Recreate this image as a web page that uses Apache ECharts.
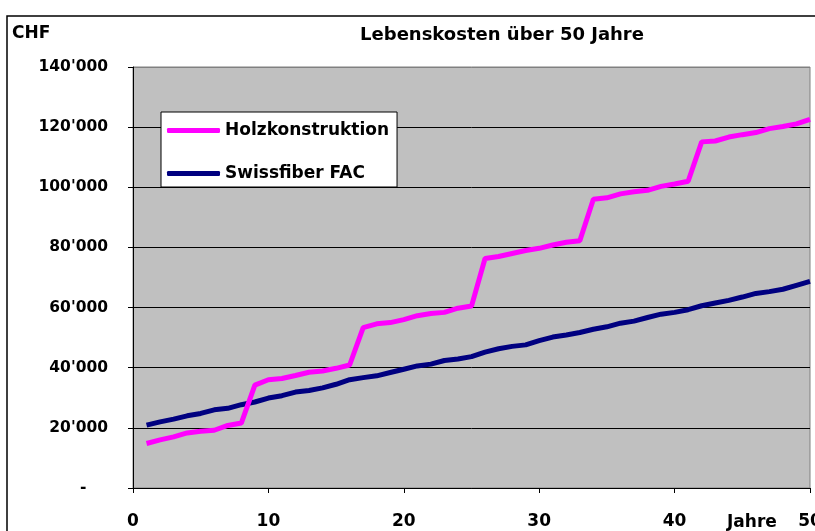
<!DOCTYPE html>
<html>
<head>
<meta charset="utf-8">
<script src="https://cdn.jsdelivr.net/npm/echarts@6/dist/echarts.min.js"></script>
<style>
html,body{margin:0;padding:0;background:#fff;}
#c{width:815px;height:531px;}
</style>
</head>
<body>
<div id="c"></div>
<script>
const years = [1,2,3,4,5,6,7,8,9,10,11,12,13,14,15,16,17,18,19,20,21,22,23,24,25,26,27,28,29,30,31,32,33,34,35,36,37,38,39,40,41,42,43,44,45,46,47,48,49,50];
const holzkonstruktion = [14800,16000,17000,18300,18900,19200,20800,21600,34200,36000,36400,37400,38500,38900,39800,40900,53300,54600,55000,56000,57300,58000,58400,59800,60500,76300,77000,78000,79000,79700,80800,81700,82200,96000,96500,97800,98500,99000,100300,101100,102000,115100,115400,116700,117500,118200,119500,120200,121100,122600];
const swissfiber = [20900,22000,22900,24000,24800,26000,26500,27700,28600,29900,30700,31900,32400,33300,34500,36000,36700,37300,38400,39500,40600,41200,42400,42900,43700,45200,46300,47100,47600,49000,50200,50900,51700,52800,53600,54800,55500,56700,57800,58400,59300,60600,61500,62400,63500,64700,65300,66100,67400,68700];
const seriesNames = ['Holzkonstruktion','Swissfiber FAC'];
const xTicks = [0,10,20,30,40,50];
const yTicks = [0,20000,40000,60000,80000,100000,120000,140000];

const FONT = 'DejaVu Sans';
function fmtY(v){
  if (v === 0) return '-    ';
  return String(v).replace(/\B(?=(\d{3})+(?!\d))/g, "'");
}
const chart = echarts.init(document.getElementById('c'), null, {renderer:'canvas'});
chart.setOption({
  animation:false,
  backgroundColor:'#ffffff',
  textStyle:{fontFamily:FONT},
  title:{
    text:'Lebenskosten über 50 Jahre',
    left:497, top:21, textAlign:'center',
    textStyle:{fontFamily:FONT,fontWeight:'bold',fontSize:18,color:'#000'}
  },
  graphic:[
    {type:'rect',shape:{x:7,y:16,width:900,height:600},style:{fill:'none',stroke:'#000',lineWidth:1.5},silent:true,z:-1},
    {type:'text',left:12,top:25,style:{text:'CHF',font:'bold 17px "DejaVu Sans"',fill:'#000'}},
    {type:'text',left:727,top:514,style:{text:'Jahre',font:'bold 17px "DejaVu Sans"',fill:'#000'}}
  ],
  legend:{
    orient:'vertical',
    left:161, top:112,
    backgroundColor:'#fff',
    borderColor:'#000', borderWidth:1,
    padding:[10,8,5,6],
    itemGap:26,
    itemWidth:53, itemHeight:5,
    icon:'roundRect',
    textStyle:{fontFamily:FONT,fontWeight:'bold',fontSize:17,color:'#000'},
    data:seriesNames
  },
  grid:{left:133,right:5,top:67,bottom:43,outerBoundsMode:'none',containLabel:false,show:true,backgroundColor:'#c0c0c0',borderColor:'#808080',borderWidth:1},
  xAxis:{
    type:'value', min:0, max:50, interval:10,
    axisLine:{show:true,lineStyle:{color:'#000',width:1}},
    axisTick:{show:true,inside:false,length:5,lineStyle:{color:'#000'}},
    splitLine:{show:false},
    axisLabel:{margin:25,fontFamily:FONT,fontWeight:'bold',fontSize:17,color:'#000',hideOverlap:false,
      formatter:function(v){return xTicks.indexOf(v)>=0?String(v):'';}}
  },
  yAxis:{
    type:'value', min:0, max:140000, interval:20000,
    axisLine:{show:true,lineStyle:{color:'#000',width:1}},
    axisTick:{show:true,inside:false,length:5,lineStyle:{color:'#000'}},
    splitLine:{show:true,lineStyle:{color:['#000','#000','#000','#000','#000','#000','#000','#808080'],width:1}},
    axisLabel:{margin:25,fontFamily:FONT,fontWeight:'bold',fontSize:15.5,color:'#000',
      formatter:function(v){return yTicks.indexOf(v)>=0?fmtY(v):'';}}
  },
  series:[
    {name:seriesNames[0],type:'line',symbol:'none',data:years.map((y,i)=>[y,holzkonstruktion[i]]),
      lineStyle:{color:'#ff00ff',width:5},itemStyle:{color:'#ff00ff'},z:3},
    {name:seriesNames[1],type:'line',symbol:'none',data:years.map((y,i)=>[y,swissfiber[i]]),
      lineStyle:{color:'#000080',width:5},itemStyle:{color:'#000080'},z:2}
  ]
});
</script>
</body>
</html>
